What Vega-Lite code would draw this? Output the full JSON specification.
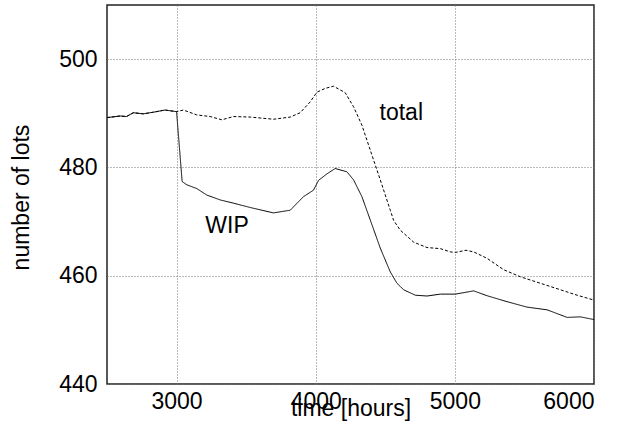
{
  "$schema": "https://vega.github.io/schema/vega-lite/v6.json",
  "autosize": "none",
  "width": 487,
  "height": 379,
  "padding": {"left": 107, "top": 5, "right": 30, "bottom": 52},
  "background": "white",
  "config": {
    "font": "Liberation Sans",
    "view": {"stroke": "#222", "strokeWidth": 1.5},
    "axis": {
      "labelFont": "Liberation Sans",
      "titleFont": "Liberation Sans",
      "labelFontSize": 23,
      "titleFontSize": 23,
      "labelColor": "black",
      "titleColor": "black",
      "titleFontWeight": "normal",
      "ticks": false,
      "domain": false,
      "grid": true,
      "gridColor": "#777",
      "gridDash": [1, 2],
      "gridWidth": 1
    }
  },
  "layer": [
    {
      "data": {
        "values": [
          {"t": 2500, "v": 489.2, "s": "total"},
          {"t": 2594, "v": 489.5, "s": "total"},
          {"t": 2640, "v": 489.4, "s": "total"},
          {"t": 2689, "v": 490.1, "s": "total"},
          {"t": 2761, "v": 489.9, "s": "total"},
          {"t": 2833, "v": 490.2, "s": "total"},
          {"t": 2917, "v": 490.6, "s": "total"},
          {"t": 3000, "v": 490.3, "s": "total"},
          {"t": 3049, "v": 490.6, "s": "total"},
          {"t": 3145, "v": 489.7, "s": "total"},
          {"t": 3241, "v": 489.4, "s": "total"},
          {"t": 3325, "v": 488.8, "s": "total"},
          {"t": 3409, "v": 489.4, "s": "total"},
          {"t": 3529, "v": 489.3, "s": "total"},
          {"t": 3696, "v": 488.9, "s": "total"},
          {"t": 3817, "v": 489.3, "s": "total"},
          {"t": 3888, "v": 490.1, "s": "total"},
          {"t": 3960, "v": 492.1, "s": "total"},
          {"t": 4009, "v": 493.9, "s": "total"},
          {"t": 4068, "v": 494.6, "s": "total"},
          {"t": 4128, "v": 495.0, "s": "total"},
          {"t": 4212, "v": 493.8, "s": "total"},
          {"t": 4272, "v": 491.2, "s": "total"},
          {"t": 4332, "v": 487.8, "s": "total"},
          {"t": 4392, "v": 483.2, "s": "total"},
          {"t": 4464, "v": 477.7, "s": "total"},
          {"t": 4536, "v": 472.1, "s": "total"},
          {"t": 4560, "v": 470.2, "s": "total"},
          {"t": 4608, "v": 468.4, "s": "total"},
          {"t": 4704, "v": 466.2, "s": "total"},
          {"t": 4800, "v": 465.2, "s": "total"},
          {"t": 4896, "v": 465.0, "s": "total"},
          {"t": 4968, "v": 464.4, "s": "total"},
          {"t": 5004, "v": 464.3, "s": "total"},
          {"t": 5080, "v": 464.7, "s": "total"},
          {"t": 5135, "v": 464.4, "s": "total"},
          {"t": 5232, "v": 463.2, "s": "total"},
          {"t": 5351, "v": 461.1, "s": "total"},
          {"t": 5471, "v": 459.8, "s": "total"},
          {"t": 5615, "v": 458.6, "s": "total"},
          {"t": 5759, "v": 457.4, "s": "total"},
          {"t": 5879, "v": 456.4, "s": "total"},
          {"t": 6000, "v": 455.5, "s": "total"},
          {"t": 2500, "v": 489.2, "s": "WIP"},
          {"t": 2594, "v": 489.5, "s": "WIP"},
          {"t": 2640, "v": 489.4, "s": "WIP"},
          {"t": 2689, "v": 490.1, "s": "WIP"},
          {"t": 2761, "v": 489.9, "s": "WIP"},
          {"t": 2833, "v": 490.2, "s": "WIP"},
          {"t": 2917, "v": 490.6, "s": "WIP"},
          {"t": 3000, "v": 490.3, "s": "WIP"},
          {"t": 3040, "v": 477.4, "s": "WIP"},
          {"t": 3073, "v": 476.8, "s": "WIP"},
          {"t": 3145, "v": 476.1, "s": "WIP"},
          {"t": 3217, "v": 474.9, "s": "WIP"},
          {"t": 3313, "v": 474.0, "s": "WIP"},
          {"t": 3409, "v": 473.4, "s": "WIP"},
          {"t": 3529, "v": 472.6, "s": "WIP"},
          {"t": 3696, "v": 471.6, "s": "WIP"},
          {"t": 3817, "v": 472.1, "s": "WIP"},
          {"t": 3912, "v": 474.6, "s": "WIP"},
          {"t": 3984, "v": 475.8, "s": "WIP"},
          {"t": 4020, "v": 477.6, "s": "WIP"},
          {"t": 4080, "v": 478.8, "s": "WIP"},
          {"t": 4140, "v": 479.8, "s": "WIP"},
          {"t": 4224, "v": 479.2, "s": "WIP"},
          {"t": 4272, "v": 477.7, "s": "WIP"},
          {"t": 4332, "v": 474.6, "s": "WIP"},
          {"t": 4392, "v": 470.3, "s": "WIP"},
          {"t": 4464, "v": 465.1, "s": "WIP"},
          {"t": 4536, "v": 460.7, "s": "WIP"},
          {"t": 4584, "v": 458.6, "s": "WIP"},
          {"t": 4632, "v": 457.4, "s": "WIP"},
          {"t": 4716, "v": 456.4, "s": "WIP"},
          {"t": 4800, "v": 456.25, "s": "WIP"},
          {"t": 4896, "v": 456.6, "s": "WIP"},
          {"t": 5004, "v": 456.6, "s": "WIP"},
          {"t": 5135, "v": 457.2, "s": "WIP"},
          {"t": 5232, "v": 456.3, "s": "WIP"},
          {"t": 5376, "v": 455.2, "s": "WIP"},
          {"t": 5519, "v": 454.2, "s": "WIP"},
          {"t": 5663, "v": 453.7, "s": "WIP"},
          {"t": 5807, "v": 452.3, "s": "WIP"},
          {"t": 5903, "v": 452.4, "s": "WIP"},
          {"t": 6000, "v": 451.9, "s": "WIP"}
        ]
      },
      "mark": {"type": "line", "color": "black", "strokeWidth": 1, "clip": true},
      "encoding": {
        "x": {
          "field": "t", "type": "quantitative",
          "scale": {"domain": [2500, 6000], "nice": false, "zero": false},
          "axis": {"values": [3000, 4000, 5000, 6000], "format": "d", "title": "time [hours]", "labelPadding": 6, "titleBaseline": "alphabetic", "titleY": 31, "titleX": 243.5}
        },
        "y": {
          "field": "v", "type": "quantitative",
          "scale": {"domain": [440, 510], "nice": false, "zero": false},
          "axis": {"values": [440, 460, 480, 500], "format": "d", "title": "number of lots", "labelPadding": 10, "titleAngle": -90, "titleBaseline": "alphabetic", "titleX": -79, "titleY": 192}
        },
        "detail": {"field": "s"},
        "strokeDash": {
          "field": "s", "type": "nominal",
          "scale": {"domain": ["total", "WIP"], "range": [[3, 2], [1, 0]]},
          "legend": null
        }
      }
    },
    {
      "data": {
        "values": [
          {"t": 4615, "v": 488.75, "label": "total"},
          {"t": 3363, "v": 467.8, "label": "WIP"}
        ]
      },
      "mark": {"type": "text", "font": "Liberation Sans", "fontSize": 23, "align": "center", "baseline": "alphabetic", "color": "black"},
      "encoding": {
        "x": {"field": "t", "type": "quantitative"},
        "y": {"field": "v", "type": "quantitative"},
        "text": {"field": "label"}
      }
    }
  ]
}
